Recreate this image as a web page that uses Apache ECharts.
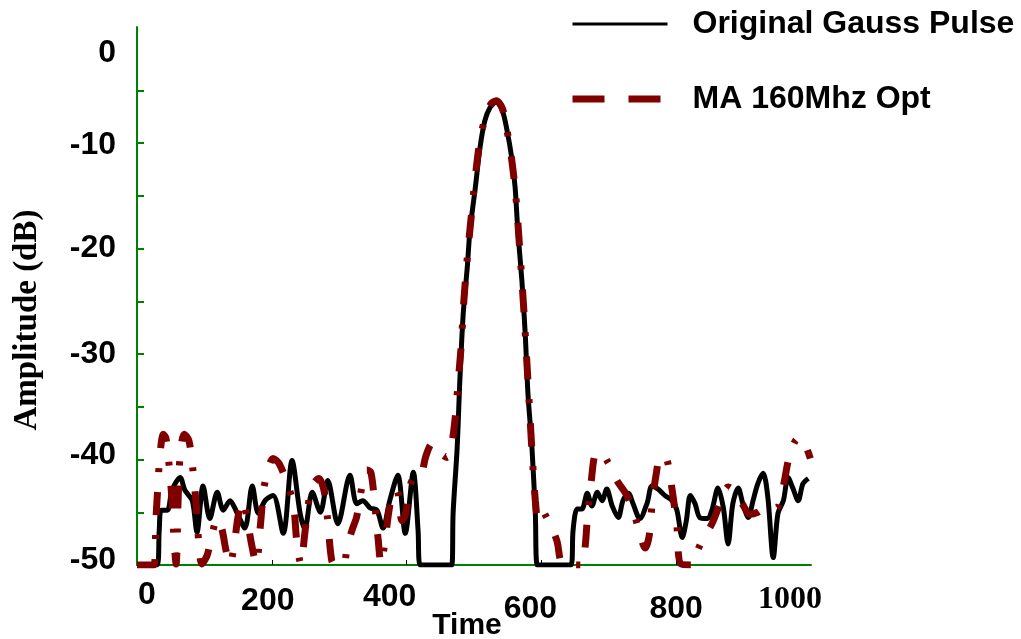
<!DOCTYPE html>
<html><head><meta charset="utf-8">
<script src="https://cdn.jsdelivr.net/npm/echarts@6/dist/echarts.min.js"></script>
<style>html,body{margin:0;padding:0;background:#fff}#c{width:1021px;height:639px}</style>
</head><body><div id="c"></div>
<script>
const seriesNames = ['Original Gauss Pulse', 'MA 160Mhz Opt'];
const xLabelValues = [0, 200, 400, 600, 800, 1000];
const xTickValues = [200, 400, 600, 800];
const yLabelValues = [-50, -40, -30, -20, -10, 0];
const yTickValues = [-45, -40, -35, -30, -25, -20, -15, -10, -5];

const timeGauss = [0,30,33,36,45,52,64,71,82,89,98,108,119,128,138,148,160,171,180,190,202,217,230,242,249,260,272,283,298,316,326,335,346,356,365,375,387,398,410,417,420,467,469,475,479,484,490,494,502,509,516,524,533,542,549,556,561,565,571,576,580,586,591,594,644,647,653,660,668,675,683,690,697,705,714,721,729,736,746,757,764,773,783,794,801,809,815,821,828,835,846,853,862,870,877,884,892,899,907,914,921,929,936,944,951,959,966,973,981,988,996];
const ampGauss = [-50,-50,-46.7,-44.8,-44.8,-42.9,-41.7,-42.9,-43.9,-46.9,-42.5,-45.6,-43.1,-44.8,-43.9,-45.0,-46.5,-42.5,-45.1,-43.9,-43.4,-47.0,-40.1,-45.1,-46.6,-43.1,-45.0,-42.0,-46.1,-41.5,-44.2,-43.9,-44.6,-44.8,-46.5,-43.9,-41.5,-47.0,-41.2,-46.7,-50,-50,-45.1,-38.9,-32.5,-26.2,-21.8,-18.3,-14.2,-10.4,-7.9,-6.6,-6.1,-6.9,-8.8,-11.4,-14.2,-18.3,-23.0,-28.1,-33.7,-38.9,-45.1,-50,-50,-46.7,-44.7,-44.7,-43.2,-44.4,-43.1,-43.9,-42.8,-44.4,-45.5,-43.9,-43.2,-44.2,-45.6,-44.1,-42.5,-42.8,-43.4,-43.9,-44.8,-47.4,-45.8,-43.4,-44.2,-45.5,-45.6,-44.8,-42.7,-44.6,-48.0,-44.2,-42.7,-44.2,-45.5,-43.9,-42.3,-41.3,-43.6,-49.3,-45.1,-43.9,-41.7,-42.7,-43.9,-42.3,-41.8];

const timeMA = [0,25,28,31,34,39,43,47,52,55,58,61,64,70,77,83,88,92,96,104,111,119,126,132,138,144,150,157,163,169,177,183,188,194,202,211,223,232,237,243,249,255,263,270,278,283,289,295,306,312,319,326,334,341,347,353,358,362,368,374,381,387,393,398,404,410,420,429,438,447,454,460,466,472,476,481,485,490,496,503,510,518,525,533,542,549,556,562,568,574,580,586,591,595,601,607,614,623,632,660,665,669,674,680,687,699,712,724,734,743,754,760,764,770,777,785,794,801,807,825,832,841,853,865,877,887,898,910,921,933,944,952,960,967,976,984,991,999];
const ampMA = [-50,-50,-45.8,-42.5,-39.6,-37.6,-38.0,-40.1,-43.9,-47.7,-49.9,-43.9,-39.6,-37.6,-38.2,-41.0,-44.4,-48.2,-49.9,-49.1,-47.2,-45.6,-46.6,-48.6,-49.9,-48.2,-45.4,-43.9,-45.3,-47.7,-49.9,-46.3,-42.9,-41.0,-39.9,-40.4,-42.3,-44.2,-47.7,-49.9,-47.0,-43.9,-42.2,-41.8,-43.1,-45.8,-49.6,-50,-50,-48.2,-46.7,-45.4,-42.5,-41.0,-41.2,-44.4,-47.7,-49.9,-47.7,-44.8,-42.9,-43.1,-45.8,-45.3,-42.8,-41.8,-41.7,-39.6,-38.5,-38.9,-39.6,-39.8,-38.9,-36.1,-33.0,-29.2,-24.9,-20.9,-16.9,-12.6,-9.3,-7.4,-6.3,-6.0,-6.7,-8.8,-11.6,-15.0,-20.2,-25.9,-32.5,-39.2,-43.9,-45.6,-44.8,-45.4,-46.3,-47.7,-49.9,-50,-48.2,-44.8,-42.0,-39.4,-39.3,-40.3,-42.0,-43.1,-44.4,-46.3,-48.4,-47.2,-44.4,-41.5,-39.7,-39.8,-42.9,-46.3,-49.9,-50,-48.6,-47.4,-46.1,-44.2,-42.6,-43.1,-44.2,-45.2,-45.0,-44.5,-44.7,-44.4,-42.2,-39.9,-38.3,-37.9,-38.5,-39.9];

const sans = '"Liberation Sans", Arial, sans-serif';
const serif = '"Liberation Serif", "Times New Roman", serif';
const green = '#008000';
const maroon = '#800000';

const base = {fontFamily: sans, fontWeight: 'bold', fontSize: 32, color: '#000'};
const withPad = (p, extra) => Object.assign({}, base, extra || {}, {padding: p});
const xRich = {
  a: withPad([3, 0, 0, 20]),
  b: withPad([9, 8, 0, 0]),
  c: withPad([5, 34, 0, 0]),
  d: withPad([17, 22, 0, 0]),
  e: withPad([17, 0, 0, 0]),
  f: withPad([8, 42, 0, 0], {fontFamily: serif})
};
const xKey = {0: 'a', 200: 'b', 400: 'c', 600: 'd', 800: 'e', 1000: 'f'};
const yRich = {
  z: withPad([32, 0, 0, 0]),
  t: withPad([4, 0, 0, 0]),
  m: withPad([0, 0, 0, 0]),
  b: withPad([0, 0, 9, 0])
};
const yKey = {0: 'z', '-10': 't', '-20': 'm', '-30': 'm', '-40': 'b', '-50': 'b'};

const chart = echarts.init(document.getElementById('c'));
chart.setOption({
  animation: false,
  backgroundColor: '#fff',
  grid: {left: 137, right: 210, top: 27, bottom: 74, containLabel: false, outerBoundsMode: 'none'},
  legend: {
    orient: 'vertical', left: 569, top: 8, padding: 0,
    itemWidth: 95, itemHeight: 30, itemGap: 43,
    textStyle: {fontFamily: sans, fontWeight: 'bold', fontSize: 32, color: '#000', padding: [0, 0, 0, 20]},
    data: [
      {name: seriesNames[0], itemStyle: {opacity: 0}, lineStyle: {width: 3, color: '#000'}},
      {name: seriesNames[1], itemStyle: {opacity: 0}, lineStyle: {width: 7, color: maroon, type: [32, 24], cap: 'butt'}}
    ]
  },
  xAxis: {
    type: 'value', min: 0, max: 1000, interval: 200,
    name: 'Time', nameLocation: 'middle', nameGap: 46, nameMoveOverlap: false,
    nameTextStyle: {fontFamily: sans, fontWeight: 'bold', fontSize: 30, color: '#000', padding: [0, 14, 0, 0]},
    axisLine: {show: true, onZero: false, lineStyle: {color: green, width: 2}},
    axisTick: {show: true, inside: true, length: 5, customValues: xTickValues, lineStyle: {color: '#000', width: 1}},
    axisLabel: {
      margin: 11, customValues: xLabelValues, rich: xRich,
      formatter: v => '{' + (xKey[v] || 'e') + '|' + v + '}'
    },
    splitLine: {show: false}
  },
  yAxis: {
    type: 'value', min: -50, max: 1, interval: 5,
    name: 'Amplitude (dB)', nameLocation: 'middle', nameRotate: 90, nameGap: 93, nameMoveOverlap: false,
    nameTextStyle: {fontFamily: serif, fontWeight: 'bold', fontSize: 33, color: '#000', padding: [0, 48, 0, 0]},
    axisLine: {show: true, onZero: false, lineStyle: {color: green, width: 2}},
    axisTick: {show: true, inside: true, length: 7, customValues: yTickValues, lineStyle: {color: green, width: 2}},
    axisLabel: {
      margin: 21, customValues: yLabelValues, rich: yRich,
      formatter: v => yKey[String(v)] ? ('{' + yKey[String(v)] + '|' + v + '}') : ''
    },
    splitLine: {show: false}
  },
  series: [
    {
      name: seriesNames[0], type: 'line', symbol: 'none', smooth: 0.3,
      data: timeGauss.map((t, i) => [t, ampGauss[i]]),
      lineStyle: {color: '#000', width: 5},
      itemStyle: {color: '#000'}
    },
    {
      name: seriesNames[1], type: 'line', symbol: 'none', smooth: 0.3,
      data: timeMA.map((t, i) => [t, ampMA[i]]),
      lineStyle: {color: maroon, width: 7, type: [23, 20, 4, 20], cap: 'butt'},
      itemStyle: {color: maroon}
    }
  ]
});
</script>
</body></html>
